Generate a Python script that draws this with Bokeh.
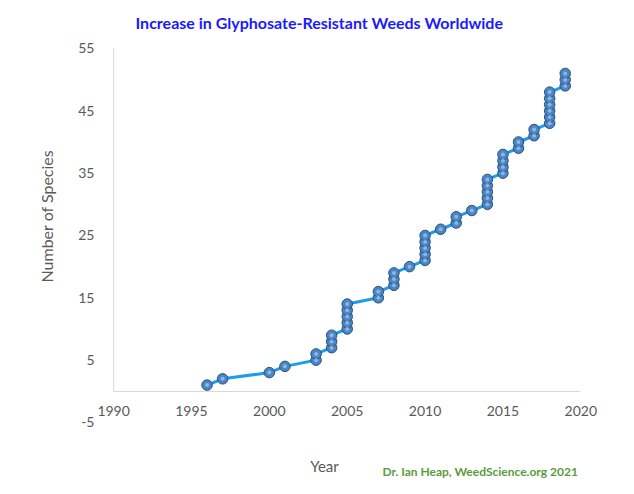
from bokeh.plotting import figure
from bokeh.models import Range1d, FixedTicker, Title, Label
from bokeh.embed import file_html
from bokeh.resources import INLINE

# one entry per resistant species (year first reported, cumulative count)
years = [1996, 1997, 2000, 2001, 2003, 2003, 2004, 2004, 2004,
         2005, 2005, 2005, 2005, 2005, 2007, 2007, 2008, 2008, 2008,
         2009, 2010, 2010, 2010, 2010, 2010, 2011, 2012, 2012, 2013,
         2014, 2014, 2014, 2014, 2014, 2015, 2015, 2015, 2015,
         2016, 2016, 2017, 2017, 2018, 2018, 2018, 2018, 2018, 2018,
         2019, 2019, 2019]
species = [1, 2, 3, 4, 5, 6, 7, 8, 9,
           10, 11, 12, 13, 14, 15, 16, 17, 18, 19,
           20, 21, 22, 23, 24, 25, 26, 27, 28, 29,
           30, 31, 32, 33, 34, 35, 36, 37, 38,
           39, 40, 41, 42, 43, 44, 45, 46, 47, 48,
           49, 50, 51]
x_ticks = [1990, 1995, 2000, 2005, 2010, 2015, 2020]
y_ticks = [-5, 5, 15, 25, 35, 45, 55]
y_tick_labels = ["-5", "5", "15", "25", "35", "45", "55"]

FONT = "Lato"
GREY = "#595959"
AXIS = "#d9d9d9"

# the plotting frame fills the canvas from top to bottom so that the title,
# the "Year" caption and the credit line can sit inside it
p = figure(width=618, height=478, output_backend="svg", toolbar_location=None,
           x_range=Range1d(1988.9, 2021.2), y_range=Range1d(-13.99, 62.7),
           min_border_left=96, min_border_right=19, min_border_top=0,
           min_border_bottom=0)
p.outline_line_color = None
p.xgrid.grid_line_color = None
p.ygrid.grid_line_color = None

# x axis drawn at y = 0
p.xaxis.fixed_location = 0
p.xaxis.bounds = (x_ticks[0], x_ticks[-1])
p.xaxis.ticker = FixedTicker(ticks=x_ticks)
p.xaxis.axis_line_color = AXIS
p.xaxis.major_tick_line_color = None
p.xaxis.minor_tick_line_color = None
p.xaxis.major_label_text_font = FONT
p.xaxis.major_label_text_font_size = "14px"
p.xaxis.major_label_text_color = GREY
p.xaxis.major_label_standoff = 9

p.yaxis.ticker = FixedTicker(ticks=y_ticks)
p.yaxis.major_label_overrides = dict(zip(y_ticks, y_tick_labels))
p.yaxis.axis_line_color = None
p.yaxis.major_tick_line_color = None
p.yaxis.minor_tick_line_color = None
p.yaxis.major_label_text_font = FONT
p.yaxis.major_label_text_font_size = "14px"
p.yaxis.major_label_text_color = GREY
p.yaxis.major_label_standoff = -4

p.add_layout(Title(text="Number of Species", align="left", offset=196,
                   text_font=FONT, text_font_size="16px",
                   text_font_style="normal", text_color=GREY, standoff=40),
             "left")

# vertical axis line at the first x tick, from 0 up to the top tick
p.segment(x0=[x_ticks[0]], y0=[0], x1=[x_ticks[0]], y1=[y_ticks[-1]],
          line_color=AXIS, line_width=1)

p.line(years, species, line_color="#1a9cf0", line_width=3)
p.scatter(years, species, size=10.5, fill_color="#4a86c5", line_color="#2a4f7a",
          line_width=1)
p.scatter(years, species, size=4, fill_color="#9cc3ec", line_color=None,
          fill_alpha=0.8)

p.add_layout(Label(x=39, y=456, x_units="screen", y_units="screen",
                   text="Increase in Glyphosate-Resistant Weeds Worldwide",
                   text_font=FONT, text_font_size="16px",
                   text_font_style="bold", text_color="#1a1aff",
                   text_align="left", text_baseline="middle"))
p.add_layout(Label(x=228, y=13, x_units="screen", y_units="screen",
                   text="Year", text_font=FONT, text_font_size="15px",
                   text_color=GREY, text_align="center",
                   text_baseline="middle"))
p.add_layout(Label(x=286, y=7, x_units="screen", y_units="screen",
                   text="Dr. Ian Heap, WeedScience.org  2021", text_font=FONT,
                   text_font_size="12px", text_font_style="bold",
                   text_color="#5a9b3c", text_align="left",
                   text_baseline="middle"))

open("out.html", "w").write(file_html(p, INLINE))
